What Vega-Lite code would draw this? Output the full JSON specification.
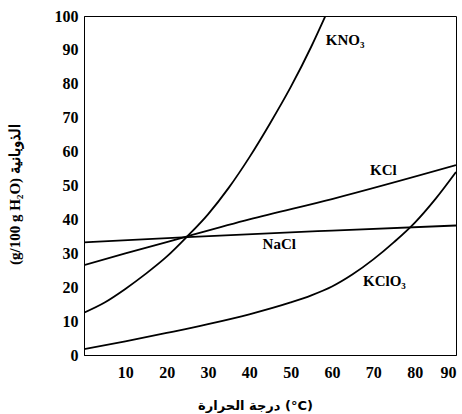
{
  "$schema": "https://vega.github.io/schema/vega-lite/v6.json",
  "width": 372,
  "height": 339,
  "autosize": {"type": "none"},
  "padding": {"left": 84, "top": 16, "right": 6, "bottom": 59},
  "background": "white",
  "config": {
    "view": {"stroke": "black", "strokeWidth": 1},
    "font": "Liberation Serif"
  },
  "datasets": {
    "curves": [
      {"s": "KNO3", "t": 0, "v": 12.5},
      {"s": "KNO3", "t": 5, "v": 15.5},
      {"s": "KNO3", "t": 10, "v": 19.5},
      {"s": "KNO3", "t": 15, "v": 24},
      {"s": "KNO3", "t": 20, "v": 29},
      {"s": "KNO3", "t": 25, "v": 35},
      {"s": "KNO3", "t": 30, "v": 41.5},
      {"s": "KNO3", "t": 35, "v": 49.3},
      {"s": "KNO3", "t": 40, "v": 58.3},
      {"s": "KNO3", "t": 45, "v": 68.3},
      {"s": "KNO3", "t": 50, "v": 79},
      {"s": "KNO3", "t": 55, "v": 91},
      {"s": "KNO3", "t": 58.4, "v": 100},
      {"s": "KCl", "t": 0, "v": 26.5},
      {"s": "KCl", "t": 10, "v": 30},
      {"s": "KCl", "t": 20, "v": 33.3},
      {"s": "KCl", "t": 25, "v": 35},
      {"s": "KCl", "t": 40, "v": 40},
      {"s": "KCl", "t": 60, "v": 46},
      {"s": "KCl", "t": 90, "v": 56},
      {"s": "NaCl", "t": 0, "v": 33.2},
      {"s": "NaCl", "t": 25, "v": 34.8},
      {"s": "NaCl", "t": 60, "v": 36.7},
      {"s": "NaCl", "t": 90, "v": 38.2},
      {"s": "KClO3", "t": 0, "v": 1.7},
      {"s": "KClO3", "t": 10, "v": 4},
      {"s": "KClO3", "t": 20, "v": 6.5},
      {"s": "KClO3", "t": 30, "v": 9.1},
      {"s": "KClO3", "t": 40, "v": 12},
      {"s": "KClO3", "t": 50, "v": 15.5},
      {"s": "KClO3", "t": 55, "v": 17.6},
      {"s": "KClO3", "t": 60, "v": 20.2},
      {"s": "KClO3", "t": 65, "v": 23.8},
      {"s": "KClO3", "t": 70, "v": 28.2},
      {"s": "KClO3", "t": 75, "v": 33.3},
      {"s": "KClO3", "t": 80, "v": 39},
      {"s": "KClO3", "t": 85, "v": 46},
      {"s": "KClO3", "t": 90, "v": 54}
    ],
    "labels": [
      {"name": "KNO₃", "t": 58.5, "v": 93},
      {"name": "KCl", "t": 69.2, "v": 54.7},
      {"name": "NaCl", "t": 43.2, "v": 32.7},
      {"name": "KClO₃", "t": 67.5, "v": 21.9}
    ]
  },
  "encoding": {
    "x": {
      "field": "t", "type": "quantitative",
      "scale": {"domain": [0, 90], "nice": false},
      "axis": {
        "values": [10, 20, 30, 40, 50, 60, 70, 80, 90],
        "ticks": false, "grid": false, "domainColor": "black", "labelOverlap": false,
        "labelFont": "Liberation Serif", "labelFontWeight": "bold", "labelFontSize": 16,
        "labelColor": "black", "labelPadding": 9,
        "title": "‎درجة الحرارة (°C)",
        "titleFont": "DejaVu Sans", "titleFontWeight": "bold", "titleFontSize": 13,
        "titleColor": "black", "titleX": 171, "titleY": 44
      }
    },
    "y": {
      "field": "v", "type": "quantitative",
      "scale": {"domain": [0, 100], "nice": false},
      "axis": {
        "values": [0, 10, 20, 30, 40, 50, 60, 70, 80, 90, 100],
        "tickCount": 11,
        "ticks": false, "grid": false, "domainColor": "black", "labelOverlap": false,
        "labelFont": "Liberation Serif", "labelFontWeight": "bold", "labelFontSize": 16,
        "labelColor": "black", "labelPadding": 6,
        "title": "(g/100 g H₂O) الذوبانية",
        "titleFont": "Liberation Serif", "titleFontWeight": "bold", "titleFontSize": 15,
        "titleColor": "black", "titleX": -62, "titleY": 178
      }
    }
  },
  "layer": [
    {
      "data": {"name": "curves"},
      "mark": {"type": "line", "color": "black", "strokeWidth": 1.8, "clip": true, "interpolate": "monotone"},
      "encoding": {
        "detail": {"field": "s", "type": "nominal"}
      }
    },
    {
      "data": {"name": "labels"},
      "mark": {"type": "text", "align": "left", "baseline": "middle", "font": "Liberation Serif", "fontWeight": "bold", "fontSize": 15, "color": "black"},
      "encoding": {
        "text": {"field": "name", "type": "nominal"}
      }
    }
  ]
}
